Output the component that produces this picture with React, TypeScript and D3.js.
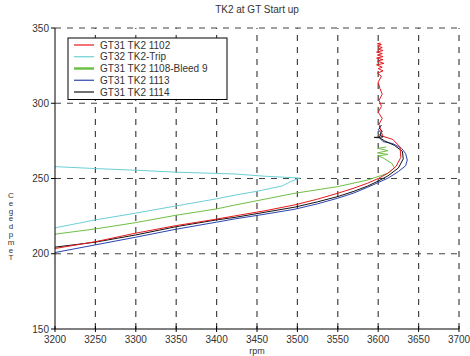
import React from "react";
import * as d3 from "d3";

type Pt = [number, number];

const xTicks = [3200, 3250, 3300, 3350, 3400, 3450, 3500, 3550, 3600, 3650, 3700];
const yTicks = [150, 200, 250, 300, 350];

const seriesNames = ["GT31 TK2 1102", "GT32 TK2-Trip", "GT31 TK2 1108-Bleed 9", "GT31 TK2 1113", "GT31 TK2 1114"];
const seriesColors = ["#e8191c", "#6ccfd6", "#6fbf45", "#2a44b0", "#111111"];

// [rpm, temp] in path order
const red1102: Pt[] = [
  [3190, 202.5], [3200, 203.5], [3250, 208], [3300, 213.7], [3350, 218.7], [3400, 223], [3423, 225.2],
  [3460, 228.6], [3497, 232.5], [3525, 236.3], [3550, 240.2], [3570, 243.6], [3587, 246.9], [3600, 250],
  [3612, 253.5], [3622, 258], [3628, 264], [3627, 271], [3618, 276], [3606, 278], [3603, 282], [3601, 286],
  [3605, 290], [3600, 294], [3604, 298], [3601, 302], [3605, 306], [3602, 310], [3600, 314], [3604, 318],
  [3599, 320], [3606, 321.5], [3600, 323], [3605, 324], [3598, 325.5], [3607, 326.5], [3599, 328],
  [3606, 329], [3598, 330], [3606, 331], [3599, 332], [3605, 333], [3598, 334], [3606, 335], [3600, 336],
  [3605, 337], [3599, 338], [3604, 339], [3599, 339.5], [3603, 340],
];

const cyanTrip: Pt[] = [
  [3190, 216.2], [3200, 217.2], [3250, 222.5], [3300, 227], [3350, 231.8], [3400, 236.5], [3423, 239],
  [3450, 241.5], [3481, 245], [3492, 248], [3503, 250.3], [3460, 251.5], [3423, 253], [3350, 254.2],
  [3300, 255.5], [3250, 256.6], [3200, 257.9], [3190, 258.1],
];

const greenBleed: Pt[] = [
  [3190, 212.3], [3200, 213], [3250, 216.5], [3300, 220.7], [3350, 225.6], [3400, 229.8], [3423, 232.4],
  [3460, 236.3], [3497, 240.2], [3550, 244.6], [3587, 249], [3612, 253.5], [3620, 257], [3617, 260],
  [3606, 263.7], [3600, 265], [3612, 266], [3599, 267], [3612, 268.5], [3600, 270], [3610, 271],
];

const blue1113: Pt[] = [
  [3190, 199.8], [3200, 200.8], [3250, 205.9], [3300, 211], [3350, 216.3], [3400, 221], [3423, 223.2],
  [3460, 226.3], [3497, 229.6], [3525, 233.2], [3550, 236.9], [3570, 240.4], [3587, 244.2], [3600, 247.3],
  [3612, 250.2], [3625, 254.6], [3634, 258.5], [3636, 262.3], [3634, 266.5], [3629, 270], [3618, 273.2],
  [3606, 274.5], [3601, 277.5], [3604, 280], [3600, 282.5], [3603, 284],
];

const black1114: Pt[] = [
  [3190, 203.6], [3200, 204.4], [3250, 207.7], [3300, 212.5], [3350, 218], [3400, 222.5], [3423, 224.2],
  [3460, 227.6], [3497, 231], [3525, 234.5], [3550, 238], [3570, 241.5], [3587, 245], [3600, 248.3],
  [3612, 251.7], [3625, 257], [3631, 263], [3630, 268], [3620, 272], [3608, 275], [3602, 277],
  [3595, 277.3], [3606, 277.6], [3602, 279], [3605, 281.5], [3601, 283.5], [3604, 285.5],
];

const seriesData: Pt[][] = [red1102, cyanTrip, greenBleed, blue1113, black1114];
// drawing order: cyan, green, blue, black, red on top
const drawOrder = [1, 2, 3, 4, 0];

const yLabelChars = ["C", "e", "g", "e", "d", "p", "m", "e", "T"];

export default function App() {
  const width = 470;
  const height = 356;
  const margin = { left: 55, right: 11, top: 28, bottom: 27 };

  const x = d3.scaleLinear().domain([3200, 3700]).range([margin.left, width - margin.right]);
  const y = d3.scaleLinear().domain([150, 350]).range([height - margin.bottom, margin.top]);

  const line = d3
    .line<Pt>()
    .x((d) => x(d[0]))
    .y((d) => y(d[1]));

  const x0 = x(3200);
  const x1 = x(3700);
  const y0 = y(150);
  const y1 = y(350);
  const font = "'Liberation Sans', Arial, sans-serif";
  const gridColor = "#444";

  return (
    <svg
      width={width}
      height={height}
      style={{ position: "absolute", left: 0, top: 0, background: "#fff" }}
      fontFamily={font}
    >
      <defs>
        <clipPath id="plot">
          <rect x={x0} y={y1 - 2} width={x1 - x0} height={y0 - y1 + 2} />
        </clipPath>
      </defs>

      <text x={257} y={13} textAnchor="middle" fontSize={10} fill="#333">
        TK2 at GT Start up
      </text>

      {/* grid */}
      {xTicks.slice(1).map((t) => (
        <line
          key={"vx" + t}
          x1={x(t)}
          x2={x(t)}
          y1={y0}
          y2={y1}
          stroke={gridColor}
          strokeWidth={1.2}
          strokeDasharray="6,6"
        />
      ))}
      {yTicks.slice(1).map((t) => (
        <line
          key={"hy" + t}
          x1={x0}
          x2={x1}
          y1={y(t)}
          y2={y(t)}
          stroke={gridColor}
          strokeWidth={1.2}
          strokeDasharray="6,6"
        />
      ))}

      {/* series */}
      <g clipPath="url(#plot)">
        {drawOrder.map((i) => (
          <path
            key={seriesNames[i]}
            d={line(seriesData[i]) || ""}
            fill="none"
            stroke={seriesColors[i]}
            strokeWidth={1}
            strokeLinejoin="round"
          />
        ))}
      </g>

      {/* axes */}
      <line x1={x0} x2={x0} y1={y1} y2={y0} stroke="#000" strokeWidth={1} />
      <line x1={x0} x2={x1} y1={y0} y2={y0} stroke="#000" strokeWidth={1} />
      {yTicks.map((t) => (
        <g key={"yt" + t}>
          <line x1={x0 - 4} x2={x0} y1={y(t)} y2={y(t)} stroke="#000" />
          <text x={x0 - 6} y={y(t)} dy="0.35em" textAnchor="end" fontSize={10} fill="#333">
            {t}
          </text>
        </g>
      ))}
      {xTicks.map((t) => (
        <g key={"xt" + t}>
          <line x1={x(t)} x2={x(t)} y1={y0 - 3} y2={y0 + 3} stroke="#000" />
          <text x={x(t)} y={y0 + 14} textAnchor="middle" fontSize={10} fill="#333">
            {t}
          </text>
        </g>
      ))}
      <text x={257} y={354} textAnchor="middle" fontSize={9} fill="#333">
        rpm
      </text>

      {/* y label, stacked letters */}
      {yLabelChars.map((c, i) => (
        <text key={"yl" + i} x={11} y={198 + i * 7.8} textAnchor="middle" fontSize={8} fill="#333">
          {c}
        </text>
      ))}

      {/* legend */}
      <rect x={68} y={38} width={159} height={61.5} fill="#fff" stroke="#000" strokeWidth={1} />
      {seriesNames.map((n, i) => {
        const ly = 45 + i * 11.75;
        return (
          <g key={"lg" + n}>
            <line
              x1={74}
              x2={94}
              y1={ly}
              y2={ly}
              stroke={seriesColors[i]}
              strokeWidth={i === 2 ? 2.5 : 1.2}
            />
            <text x={100} y={ly} dy="0.35em" fontSize={10} fill="#333">
              {n}
            </text>
          </g>
        );
      })}
    </svg>
  );
}
